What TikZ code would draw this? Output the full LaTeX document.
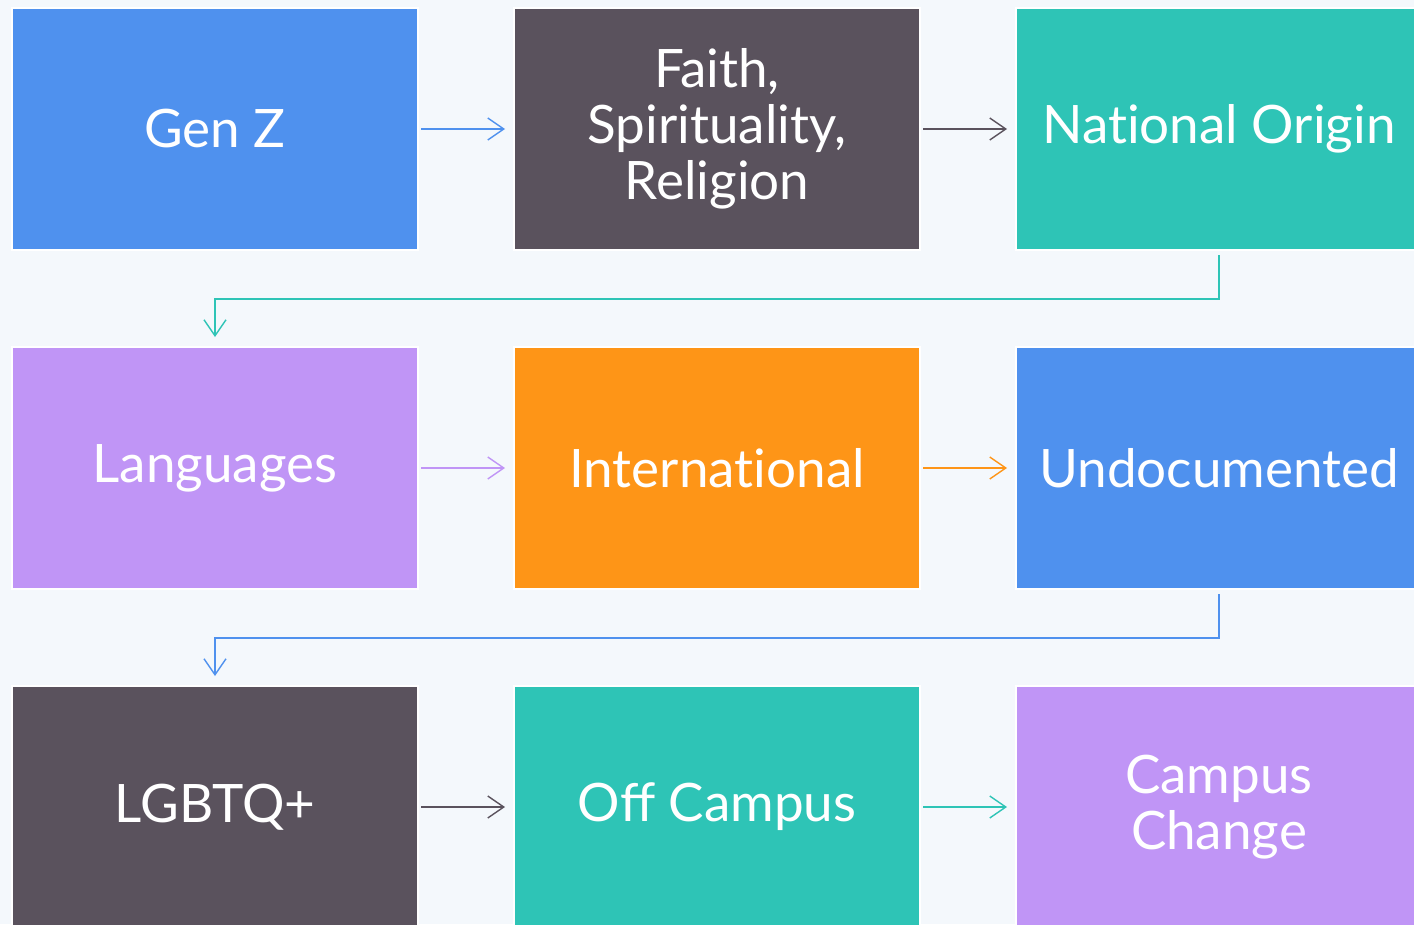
\documentclass[tikz,border=0pt]{standalone}
\usepackage{fontspec}
\setmainfont{Lato}
\usetikzlibrary{arrows.meta}
\definecolor{bg}{HTML}{F4F8FC}
\definecolor{cblue}{HTML}{4F91EE}
\definecolor{cdark}{HTML}{5A525D}
\definecolor{cteal}{HTML}{2EC4B6}
\definecolor{cpurple}{HTML}{C095F6}
\definecolor{corange}{HTML}{FE9517}
\tikzset{
  box/.style={rectangle, draw=white, line width=2pt, minimum width=406pt, minimum height=242pt,
    inner sep=0pt, text=white, font=\fontsize{53}{56}\selectfont, align=center},
  conn/.style={line width=1.4pt, -{Straight Barb[length=16pt,width=22pt,line width=1.4pt]}}
}
\begin{document}
\begin{tikzpicture}[x=1pt,y=-1pt]
\useasboundingbox (0,0) rectangle (1414,924);
\clip (0,0) rectangle (1414,924);
\fill[bg] (0,0) rectangle (1414,924);
\node[box, fill=cblue] (genz) at (215,129) {Gen Z};
\node[box, fill=cdark] (faith) at (717,129) {Faith,\\Spirituality,\\Religion};
\node[box, fill=cteal] (nat) at (1219,129) {Nat\kern0pt ional Origin};
\node[box, fill=cpurple] (lang) at (215,468) {Languages};
\node[box, fill=corange] (intl) at (717,468) {Internat\kern0pt ional};
\node[box, fill=cblue] (undoc) at (1219,468) {Undocumented};
\node[box, fill=cdark] (lgbtq) at (215,807) {LGBTQ+};
\node[box, fill=cteal] (off) at (717,807) {Off Campus};
\node[box, fill=cpurple] (camp) at (1219,807) {Campus\\Change};
\draw[conn, cblue, shorten <=2pt, shorten >=8pt] (genz.east) -- (faith.west);
\draw[conn, cdark, shorten <=2pt, shorten >=8pt] (faith.east) -- (nat.west);
\draw[conn, cpurple, shorten <=2pt, shorten >=8pt] (lang.east) -- (intl.west);
\draw[conn, corange, shorten <=2pt, shorten >=8pt] (intl.east) -- (undoc.west);
\draw[conn, cdark, shorten <=2pt, shorten >=8pt] (lgbtq.east) -- (off.west);
\draw[conn, cteal, shorten <=2pt, shorten >=8pt] (off.east) -- (camp.west);
\draw[conn, cteal, shorten <=4pt, shorten >=9pt] (nat.south) -- ++(0,48) -| (lang.north);
\draw[conn, cblue, shorten <=4pt, shorten >=9pt] (undoc.south) -- ++(0,48) -| (lgbtq.north);
\end{tikzpicture}
\end{document}
